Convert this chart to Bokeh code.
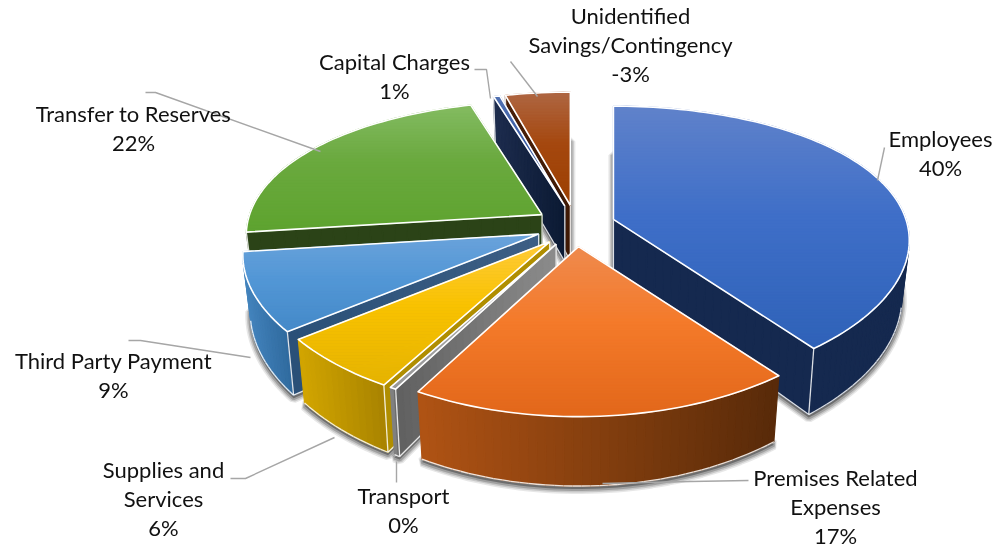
import math
from bokeh.plotting import figure
from bokeh.models import Range1d, ColumnDataSource
from bokeh.core.properties import value
from bokeh.embed import file_html
from bokeh.resources import INLINE

# ---- data ----
categories = ["Employees", "Premises Related Expenses", "Transport", "Supplies and Services",
              "Third Party Payment", "Transfer to Reserves", "Capital Charges",
              "Unidentified Savings/Contingency"]
percent_labels = ["40%", "17%", "0%", "6%", "9%", "22%", "1%", "-3%"]
# share of the full circle each slice occupies as drawn
slice_shares = [39.7, 18.2, 0.3, 6.0, 8.8, 22.5, 0.4, 4.1]

# ---- styles ----
top_colors = [("#6082CA", "#3F6FC8", "#2F62B8"), ("#EF8A4E", "#F47A2A", "#E2671A"),
              ("#B5B5B5", "#A5A5A5", "#989898"), ("#FFCB3A", "#F9C200", "#E5B300"),
              ("#6BA3DB", "#5397D6", "#4489C8"), ("#84BB62", "#6AA93E", "#5EA32F"),
              ("#5070B0", "#3A5CA5", "#2F4F95"), ("#AE6642", "#A5480F", "#9C3F00")]
rim_colors = [("#15294F", "#15294F"), ("#B05314", "#582A09"), ("#8A8A8A", "#606060"),
              ("#D2A500", "#A88300"), ("#4484BD", "#2F6A9E"), ("#2B4317", "#2B4317"),
              ("#1B2A4C", "#0B1A33"), ("#5A2A0C", "#3F1A05")]
radial_colors = [("#15294F", "#15294F"), ("#582A09", "#582A09"), ("#606060", "#8C8C8C"),
                 ("#B08E00", "#B08E00"), ("#2A5078", "#3D5F85"), ("#2B4317", "#2B4317"),
                 ("#1D2C4E", "#0B1A33"), ("#4A2008", "#3F1A05")]

# ---- layout of the projected pie ----
CX, CY = 575.0, 225.5
EXPLODE_X, EXPLODE_Y = 40.0, 20.7
RX, RY, KX, KY = 292.5, 136.0, 0.15, 0.20
THICK, BOTTOM_X = 55.5, 0.975

label_blocks = [
    (["Employees"], 940, 138),
    (["Premises Related", "Expenses"], 835, 477),
    (["Transport"], 403, 495),
    (["Supplies and", "Services"], 163, 469),
    (["Third Party Payment"], 113, 360),
    (["Transfer to Reserves"], 133, 113),
    (["Capital Charges"], 394, 61),
    (["Unidentified", "Savings/Contingency"], 630, 15),
]
LINE_STEP = 29
leader_xs = [[877, 884], [602, 690, 748], [396, 396], [334, 245, 230], [250, 140, 128],
             [320, 155, 145], [490, 486, 474], [537, 510]]
leader_ys = [[180, 147], [483, 481, 480], [461, 482], [437, 478, 478], [357, 340, 340],
             [151, 92, 92], [98, 69, 69], [96, 61]]


def hex2rgb(h):
    return tuple(int(h[i:i + 2], 16) for i in (1, 3, 5))


def mix(a, b, t):
    t = max(0.0, min(1.0, t))
    ra, rb = hex2rgb(a), hex2rgb(b)
    return "#%02X%02X%02X" % tuple(round(ra[i] + (rb[i] - ra[i]) * t) for i in range(3))


def proj(ox, oy, ang, r, bottom=False):
    sx, cz = math.sin(ang) * r, math.cos(ang) * r
    px = sx * RX / (1 + KX * cz)
    py = -cz * RY / (1 + KY * cz)
    if bottom:
        return ox + px * BOTTOM_X, oy + py + THICK / (1 + KY * cz)
    return ox + px, oy + py


def clip_band(poly, y0, y1):
    def clip(pts, keep, cross):
        out = []
        for i, p in enumerate(pts):
            q = pts[(i + 1) % len(pts)]
            if keep(p):
                out.append(p)
            if keep(p) != keep(q):
                t = (cross - p[1]) / (q[1] - p[1])
                out.append((p[0] + (q[0] - p[0]) * t, cross))
        return out
    pts = clip(poly, lambda p: p[1] >= y0, y0)
    if pts:
        pts = clip(pts, lambda p: p[1] <= y1, y1)
    return pts


def area(pts):
    return sum(pts[i][0] * pts[(i + 1) % len(pts)][1] - pts[(i + 1) % len(pts)][0] * pts[i][1]
               for i in range(len(pts))) / 2


def hull(pts):
    pts = sorted(set(pts))
    def half(seq):
        h = []
        for p in seq:
            while len(h) >= 2 and (h[-1][0] - h[-2][0]) * (p[1] - h[-2][1]) - (h[-1][1] - h[-2][1]) * (p[0] - h[-2][0]) <= 0:
                h.pop()
            h.append(p)
        return h[:-1]
    return half(pts) + half(pts[::-1])


p = figure(width=997, height=549, output_backend="svg", toolbar_location=None,
           x_range=Range1d(0, 997), y_range=Range1d(549, 0), min_border=0,
           x_axis_location=None, y_axis_location=None,
           outline_line_color=None, background_fill_color="white",
           styles={"position": "fixed", "left": "0px", "top": "0px"})
p.grid.visible = False


def patches(polys, colors, width=1.2, alpha=1.0):
    src = ColumnDataSource(dict(xs=[[q[0] for q in s] for s in polys],
                                ys=[[q[1] for q in s] for s in polys],
                                c=colors))
    p.patches("xs", "ys", source=src, fill_color="c", line_color="c", line_width=width,
              fill_alpha=alpha, line_alpha=alpha)


def lines(paths, color="#FFFFFF", width=1.5, alpha=1.0):
    p.multi_line([[q[0] for q in s] for s in paths], [[q[1] for q in s] for s in paths],
                 line_color=color, line_width=width, line_alpha=alpha, line_join="round")


# build slices
total = sum(slice_shares)
cum = 0.0
slices = []
for i, share in enumerate(slice_shares):
    a0 = cum / total * 2 * math.pi
    cum += share
    a1 = cum / total * 2 * math.pi
    mid = (a0 + a1) / 2
    slices.append(dict(i=i, a0=a0, a1=a1, ox=CX + EXPLODE_X * math.sin(mid),
                       oy=CY - EXPLODE_Y * math.cos(mid), depth=math.cos(mid)))

# painter's order: the far slices first
for s in sorted(slices, key=lambda d: -d["depth"]):
    i, ox, oy, a0, a1 = s["i"], s["ox"], s["oy"], s["a0"], s["a1"]
    n = max(2, int((a1 - a0) / math.radians(1.5)))
    angs = [a0 + (a1 - a0) * k / n for k in range(n + 1)]
    top_rim = [proj(ox, oy, a, 1) for a in angs]
    bot_rim = [proj(ox, oy, a, 1, True) for a in angs]
    top_apex, bot_apex = proj(ox, oy, 0, 0), proj(ox, oy, 0, 0, True)

    # soft shadow from the bottom cap
    cap = hull([bot_apex] + bot_rim)
    cap = [(q[0], q[1] + 3) for q in cap]
    for w, al in ((10, 0.12), (7, 0.18), (4, 0.28)):
        patches([cap], ["#3A3A3A"], width=w, alpha=al)

    # visible walls, broken in strips
    polys, cols, outline = [], [], []
    xs_rim = [q[0] for q in top_rim]
    lo, hi = min(xs_rim), max(xs_rim)
    for k in range(n):
        quad = [top_rim[k], top_rim[k + 1], bot_rim[k + 1], bot_rim[k]]
        if area(quad) < 0:
            t = ((quad[0][0] + quad[1][0]) / 2 - lo) / max(hi - lo, 1)
            polys.append(quad)
            cols.append(mix(*rim_colors[i], t))
            outline.append([bot_rim[k], bot_rim[k + 1]])
    for (tp0, bt0, tp1, bt1) in ((top_apex, bot_apex, top_rim[0], bot_rim[0]),
                                 (top_rim[-1], bot_rim[-1], top_apex, bot_apex)):
        quad = [tp0, tp1, bt1, bt0]
        if area(quad) < 0:
            m = 24
            for k in range(m):
                u, v = k / m, (k + 1) / m
                lerp = lambda a, b, w: (a[0] + (b[0] - a[0]) * w, a[1] + (b[1] - a[1]) * w)
                polys.append([lerp(tp0, tp1, u), lerp(tp0, tp1, v), lerp(bt0, bt1, v), lerp(bt0, bt1, u)])
                left_first = tp0[0] < tp1[0]
                cols.append(mix(*radial_colors[i], (u + v) / 2 if left_first else 1 - (u + v) / 2))
            outline.append([bt0, bt1])
            outline.append([tp0, bt0])
            outline.append([tp1, bt1])
    if polys:
        patches(polys, cols)
        lines(outline, width=1.3, alpha=0.85)

    # top face with a vertical gradient
    top = [top_apex] + top_rim
    ymin, ymax = min(q[1] for q in top), max(q[1] for q in top)
    bands, bcols = [], []
    c0, c1, c2 = top_colors[i]
    y = ymin
    while y < ymax:
        band = clip_band(top, y, min(y + 3, ymax))
        if len(band) >= 3:
            t = (y + 1.5 - ymin) / max(ymax - ymin, 1)
            bands.append(band)
            bcols.append(mix(c0, c1, t / 0.45) if t < 0.45 else mix(c1, c2, (t - 0.45) / 0.55))
        y += 3
    patches(bands, bcols)
    lines([top + [top[0]]], width=1.6)

# leader lines
p.multi_line(leader_xs, leader_ys, line_color="#A6A6A6", line_width=1.4)

# labels
tx, ty, tt = [], [], []
for (block, x, y), pct in zip(label_blocks, percent_labels):
    for k, line in enumerate(block + [pct]):
        tx.append(x)
        ty.append(y + k * LINE_STEP)
        tt.append(line)
p.text(tx, ty, text=tt, text_font=value("Lato"), text_font_size="22px", text_color="#111111",
       text_align="center", text_baseline="middle")

open("out.html", "w").write(file_html(p, INLINE))
